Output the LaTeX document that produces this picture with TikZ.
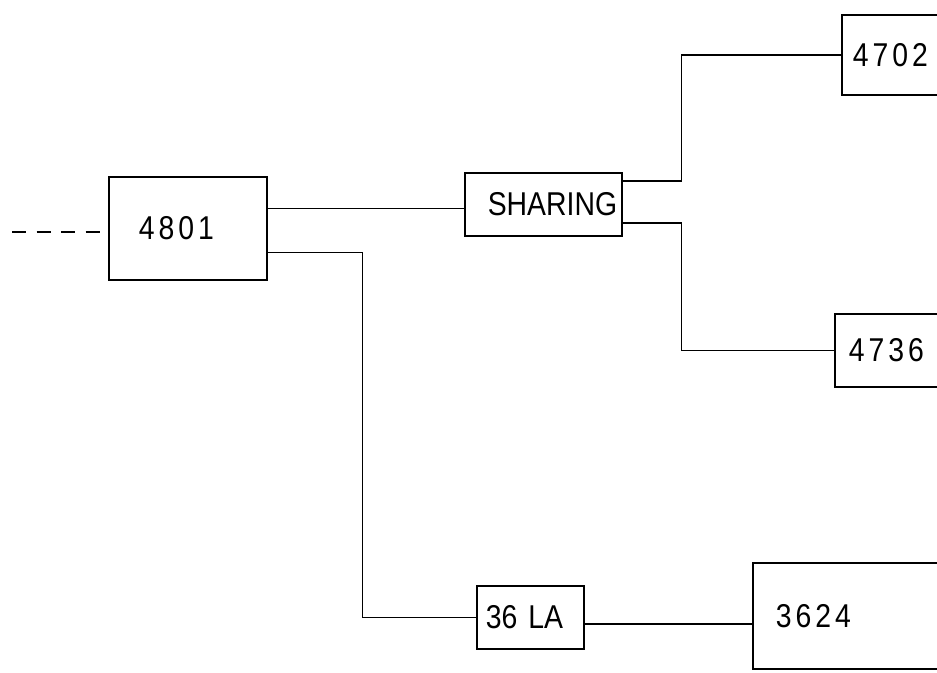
\documentclass[tikz,border=0pt]{standalone}
\usepackage{fontspec}
\setmainfont{Liberation Sans}[FakeStretch=0.86]
\newfontfamily\digfont{Liberation Sans}[FakeStretch=0.86, LetterSpace=12]
\usetikzlibrary{calc}
\tikzset{
  blk/.style={draw, rectangle, line width=1.6pt, anchor=west, inner ysep=0pt, align=left,
              font=\digfont\fontsize{33}{33}\selectfont},
  wire/.style={draw, line width=1.6pt},
  dashwire/.style={draw, line width=1.6pt, dash pattern=on 14pt off 10.5pt}
}
\begin{document}
\begin{tikzpicture}[x=1pt, y=-1pt]
\useasboundingbox (0,0) rectangle (937,672);
\clip (0,0) rectangle (937,672);
% blocks (west anchor = left edge, inner xsep = text offset)
\node[blk, minimum height=103pt, inner xsep=30pt, text width=98pt] (b4801) at (108,228.5) {4801};
\node[blk, minimum height=63pt, inner xsep=23pt, text width=111pt, font=\fontsize{33}{33}\selectfont] (share) at (464,204.5) {SHARING};
\node[blk, minimum height=80pt, inner xsep=11pt, text width=200pt] (b4702) at (841,55) {4702};
\node[blk, minimum height=73pt, inner xsep=14pt, text width=200pt] (b4736) at (834,350.5) {4736};
\node[blk, minimum height=63pt, inner xsep=9pt, text width=89pt, font=\fontsize{33}{33}\selectfont] (b36la) at (476,617.5) {36 LA};
\node[blk, minimum height=106pt, inner xsep=23pt, text width=200pt] (b3624) at (752,616) {3624};
% free end of dashed input
\coordinate (in) at (12,232);
% connectors
\path[dashwire] (in) -- (b4801.west |- in);
\coordinate (o1) at ($(b4801.north east)!0.31!(b4801.south east)$);
\path[wire] (o1) -- (share.west |- o1);
\coordinate (s1) at ($(share.north east)!0.14!(share.south east)$);
\path[wire] (s1) -- ++(59,0) |- (b4702.west);
\coordinate (s2) at ($(share.north east)!0.79!(share.south east)$);
\path[wire] (s2) -- ++(59,0) |- (b4736.west);
\coordinate (o2) at ($(b4801.north east)!0.73!(b4801.south east)$);
\path[wire] (o2) -- ++(95,0) |- (b36la.west);
\coordinate (l1) at ($(b36la.north east)!0.6!(b36la.south east)$);
\path[wire] (l1) -- (b3624.west |- l1);
\end{tikzpicture}
\end{document}
